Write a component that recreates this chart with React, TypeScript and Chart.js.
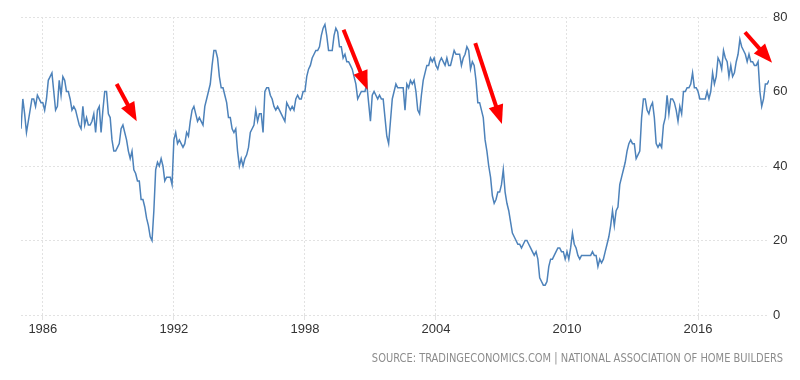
import React, { useEffect, useRef } from "react";
import { Chart, registerables } from "chart.js";

Chart.register(...registerables);

// NAHB Housing Market Index, monthly, starting January 1985
const START_YEAR = 1985;
const hmiValues: number[] = [
  // 1985
  50, 58, 54, 49, 52, 55, 58, 58, 56, 59, 58, 57,
  // 1986
  57, 55, 58, 63, 64, 65, 60, 55, 56, 63, 59, 64,
  // 1987
  63, 60, 60, 58, 55, 56, 55, 53, 51, 50, 56, 51,
  // 1988
  53, 51, 51, 52, 54, 49, 55, 56, 49, 55, 60, 60,
  // 1989
  54, 53, 47, 44, 44, 45, 46, 50, 51, 49, 47, 44,
  // 1990
  42, 44, 39, 38, 36, 36, 31, 31, 29, 26, 24, 21,
  // 1991
  20, 28, 39, 41, 40, 42, 40, 36, 37, 37, 37, 35,
  // 1992
  47, 49, 46, 47, 46, 45, 46, 49, 48, 52, 55, 56,
  // 1993
  54, 52, 53, 52, 51, 56, 58, 60, 62, 67, 71, 71,
  // 1994
  69, 64, 61, 61, 59, 57, 53, 53, 50, 49, 50, 44,
  // 1995
  40, 42, 40, 42, 43, 45, 49, 50, 51, 55, 52, 54,
  // 1996
  54, 49, 60, 61, 61, 59, 58, 56, 55, 56, 55, 54,
  // 1997
  53, 52, 57, 56, 55, 56, 55, 58, 59, 58, 58, 60,
  // 1998
  60, 64, 66, 67, 69, 70, 71, 71, 72, 75, 77, 78,
  // 1999
  75, 71, 71, 71, 75, 77, 76, 72, 72, 69, 70, 68,
  // 2000
  68, 67, 66, 64, 62, 58, 59, 60, 60, 60, 62, 57,
  // 2001
  52, 59, 60, 59, 58, 59, 58, 58, 53, 48, 46, 52,
  // 2002
  58, 60, 62, 61, 61, 61, 61, 55, 62, 61, 63, 62,
  // 2003
  63, 60, 55, 54, 59, 63, 65, 67, 67, 69, 68, 69,
  // 2004
  67, 66, 68, 69, 68, 67, 69, 67, 67, 69, 71, 70,
  // 2005
  70, 70, 67, 69, 70, 72, 71, 66, 68, 67, 63, 57,
  // 2006
  57, 55, 53, 47, 44, 40, 37, 32, 30, 31, 33, 33,
  // 2007
  35, 39, 33, 30, 28, 25, 22, 21, 20, 19, 19, 18,
  // 2008
  19, 20, 20, 19, 18, 17, 16, 17, 15, 10, 9, 8,
  // 2009
  8, 9, 13, 15, 15, 16, 17, 18, 18, 17, 17, 15,
  // 2010
  17, 15, 18, 22, 19, 18, 16, 15, 16, 16, 16, 16,
  // 2011
  16, 16, 17, 16, 16, 13, 15, 14, 15, 17, 19, 21,
  // 2012
  24, 28, 24, 28, 29, 35, 37, 39, 41, 44, 46, 47,
  // 2013
  46, 46, 42, 43, 44, 53, 58, 58, 55, 54, 56, 57,
  // 2014
  53, 46, 45, 46, 45, 51, 53, 59, 54, 58, 58, 57,
  // 2015
  55, 52, 56, 54, 60, 60, 61, 61, 62, 65, 61, 61,
  // 2016
  60, 58, 58, 58, 58, 60, 58, 60, 65, 62, 64, 69,
  // 2017
  68, 66, 71, 69, 68, 64, 67, 64, 65, 68, 70, 74,
  // 2018
  72, 71, 70, 68, 70, 68, 68, 67, 67, 68, 60, 56,
  // 2019
  58, 62, 62, 63,
];

const xTickYears = [1986, 1992, 1998, 2004, 2010, 2016];
const yTickValues = [0, 20, 40, 60, 80];

// Red annotation arrows, in data units (year, index value)
const arrowFromYear = [1989.38, 1999.77, 2005.8, 2018.15];
const arrowFromValue = [62.0, 76.6, 73.0, 75.9];
const arrowToYear = [1990.3, 2000.87, 2007.02, 2019.39];
const arrowToValue = [52.0, 60.5, 51.3, 67.7];

const sourceText =
  "SOURCE: TRADINGECONOMICS.COM | NATIONAL ASSOCIATION OF HOME BUILDERS";

const TICK_FONT = "'Liberation Sans', Arial, sans-serif";
const NARROW_FONT =
  "'Liberation Sans Narrow', 'Arial Narrow', 'DejaVu Sans Condensed', 'Roboto Condensed', sans-serif";
const GRID_COLOR = "#e2e2e2";

const arrowPlugin = {
  id: "redArrows",
  afterDatasetsDraw(chart: any) {
    const { ctx } = chart;
    const xs = chart.scales.x;
    const ys = chart.scales.y;
    ctx.save();
    ctx.strokeStyle = "#ff0000";
    ctx.fillStyle = "#ff0000";
    ctx.lineWidth = 4;
    ctx.lineCap = "butt";
    for (let i = 0; i < arrowFromYear.length; i++) {
      const x1 = xs.getPixelForValue(arrowFromYear[i]);
      const y1 = ys.getPixelForValue(arrowFromValue[i]);
      const x2 = xs.getPixelForValue(arrowToYear[i]);
      const y2 = ys.getPixelForValue(arrowToValue[i]);
      const ang = Math.atan2(y2 - y1, x2 - x1);
      const headLen = 19;
      const headHalf = 7.5;
      const bx = x2 - headLen * Math.cos(ang);
      const by = y2 - headLen * Math.sin(ang);
      ctx.beginPath();
      ctx.moveTo(x1, y1);
      ctx.lineTo(bx + Math.cos(ang), by + Math.sin(ang));
      ctx.stroke();
      ctx.beginPath();
      ctx.moveTo(x2, y2);
      ctx.lineTo(bx - headHalf * Math.sin(ang), by + headHalf * Math.cos(ang));
      ctx.lineTo(bx + headHalf * Math.sin(ang), by - headHalf * Math.cos(ang));
      ctx.closePath();
      ctx.fill();
    }
    ctx.restore();
  },
};

export default function App() {
  const canvasRef = useRef<HTMLCanvasElement | null>(null);

  useEffect(() => {
    const canvas = canvasRef.current;
    if (!canvas) return;
    const points = hmiValues.map((v, i) => ({ x: START_YEAR + i / 12, y: v }));
    const chart = new Chart(canvas, {
      type: "line",
      data: {
        datasets: [
          {
            label: "Housing Market Index",
            data: points,
            borderColor: "#4d82ba",
            borderWidth: 1.5,
            pointRadius: 0,
            tension: 0,
            fill: false,
          },
        ],
      },
      options: {
        responsive: false,
        animation: false,
        devicePixelRatio: 1,
        layout: { padding: { left: 21, right: 0, top: 17, bottom: 37 } },
        plugins: {
          legend: { display: false },
          tooltip: { enabled: false },
          title: { display: false },
        },
        scales: {
          x: {
            type: "linear",
            min: START_YEAR,
            max: START_YEAR + (hmiValues.length - 1) / 12,
            afterBuildTicks: (s: any) => {
              s.ticks = xTickYears.map((v) => ({ value: v }));
            },
            afterFit: (s: any) => {
              s.height = 28;
            },
            grid: {
              color: GRID_COLOR,
              lineWidth: 1,
              drawTicks: true,
              tickLength: 5,
              tickColor: GRID_COLOR,
            },
            border: { display: false, dash: [2, 2] },
            ticks: {
              color: "#333333",
              font: { family: TICK_FONT, size: 13 },
              padding: 2,
              maxRotation: 0,
              autoSkip: false,
              callback: (v: any) => String(v),
            },
          },
          y: {
            position: "right",
            min: 0,
            max: 80,
            afterBuildTicks: (s: any) => {
              s.ticks = yTickValues.map((v) => ({ value: v }));
            },
            afterFit: (s: any) => {
              s.width = 31;
            },
            grid: { color: GRID_COLOR, lineWidth: 1, drawTicks: false },
            border: { display: false, dash: [2, 2] },
            ticks: {
              color: "#333333",
              font: { family: TICK_FONT, size: 13 },
              padding: 4,
              callback: (v: any) => String(v),
            },
          },
        },
      },
      plugins: [arrowPlugin],
    });
    return () => chart.destroy();
  }, []);

  return (
    <div
      style={{
        position: "fixed",
        left: 0,
        top: 0,
        width: 800,
        height: 380,
        background: "#ffffff",
        overflow: "hidden",
      }}
    >
      <canvas
        ref={canvasRef}
        width={800}
        height={380}
        style={{ display: "block", width: 800, height: 380 }}
      />
      <div
        style={{
          position: "absolute",
          right: 17,
          top: 350,
          fontFamily: NARROW_FONT,
          fontSize: 13,
          lineHeight: "16px",
          color: "#8c8c8c",
          whiteSpace: "nowrap",
          transform: "scaleX(0.846)",
          transformOrigin: "right center",
        }}
      >
        {sourceText}
      </div>
    </div>
  );
}
